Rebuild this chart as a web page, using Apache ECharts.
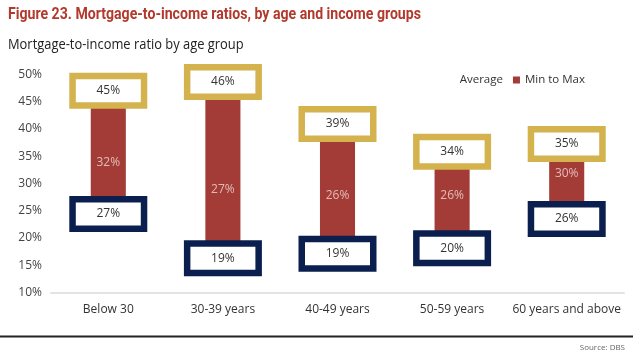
<!DOCTYPE html>
<html><head><meta charset="utf-8">
<script src="https://cdn.jsdelivr.net/npm/echarts@6/dist/echarts.min.js"></script>
<style>html,body{margin:0;padding:0;background:#fff;}#c{width:640px;height:359px;}</style>
</head><body><div id="c"></div>
<script>
var categories = ['Below 30', '30-39 years', '40-49 years', '50-59 years', '60 years and above'];
var maxValues = [44.8, 46.4, 38.7, 33.6, 35.0];
var minValues = [26.7, 18.6, 19.4, 20.4, 25.8];
var avgValues = [32, 27, 26, 26, 30];
var yTicks = [10, 15, 20, 25, 30, 35, 40, 45, 50];

var rangeValues = maxValues.map(function (v, i) { return +(v - minValues[i]).toFixed(2); });
var chart = echarts.init(document.getElementById('c'));

function boxSeries(name, values, color, off) {
  return {
    name: name, type: 'custom', z: 6, silent: true,
    data: values.map(function (v, i) { return [i, v]; }),
    renderItem: function (params, api) {
      var p = api.coord([api.value(0), api.value(1)]);
      var cx = p[0], cy = p[1] + off;
      var w = 71.5, h = 29.5;
      return {
        type: 'group',
        children: [
          { type: 'rect', shape: { x: cx - w / 2, y: cy - h / 2, width: w, height: h },
            style: { fill: '#fff', stroke: color, lineWidth: 6.5 } },
          { type: 'text', x: cx, y: cy,
            style: { text: Math.round(api.value(1)) + '%', align: 'center', verticalAlign: 'middle',
              fill: '#333', font: '12px "Open Sans"' } }
        ]
      };
    }
  };
}

chart.setOption({
  animation: false,
  title: [
    { text: 'Source: DBS', right: 10, top: 339,
      textStyle: { color: '#666', fontSize: 8, fontWeight: 'normal', fontFamily: 'Open Sans' } }
  ],
  graphic: [
    { type: 'text', left: 8, top: 6, scaleX: 0.83, originX: 0,
      style: { text: 'Figure 23. Mortgage-to-income ratios, by age and income groups',
        fill: '#B23A2C', font: 'bold 17px Roboto' } },
    { type: 'text', left: 8, top: 37, scaleX: 0.86,
      style: { text: 'Mortgage-to-income ratio by age group', fill: '#222', font: '15px "Open Sans"' } },
    { type: 'line', shape: { x1: 0, y1: 336.5, x2: 633, y2: 336.5 }, style: { stroke: '#222', lineWidth: 2 } }
  ],
  legend: {
    right: 50, top: 69, itemWidth: 7, itemHeight: 7, itemGap: 10,
    textStyle: { color: '#333', fontSize: 11.5, fontFamily: 'Open Sans' },
    data: [{ name: 'Average', icon: 'none' }, { name: 'Min to Max', icon: 'rect' }]
  },
  grid: { left: 51, right: 16, top: 74.5, bottom: 66.5 },
  xAxis: {
    type: 'category', data: categories,
    axisLine: { lineStyle: { color: '#e3e3e3', width: 2 } }, axisTick: { show: false },
    axisLabel: { color: '#333', fontSize: 12, fontFamily: 'Open Sans', margin: 11, interval: 0 }
  },
  yAxis: {
    type: 'value', min: yTicks[0], max: yTicks[yTicks.length - 1], interval: 5,
    splitLine: { show: false }, axisLine: { show: false }, axisTick: { show: false },
    axisLabel: { color: '#444', fontSize: 12, fontFamily: 'Open Sans', margin: 9, formatter: '{value}%' }
  },
  series: [
    { name: 'base', type: 'bar', stack: 'r', data: minValues, barWidth: '30.6%',
      itemStyle: { color: 'transparent' }, silent: true },
    { name: 'Min to Max', type: 'bar', stack: 'r', data: rangeValues, barWidth: '30.6%',
      itemStyle: { color: '#A33B36' } },
    { name: 'Average', type: 'scatter', data: avgValues, symbolSize: 0, z: 5,
      itemStyle: { color: '#A33B36' },
      label: { show: true, position: 'top', distance: 4, formatter: '{c}%', color: '#F3D9D6', fontSize: 12, fontFamily: 'Open Sans' } },
    boxSeries('maxLbl', maxValues, '#D4B24E', -12.2),
    boxSeries('minLbl', minValues, '#0B1F4F', 12.5)
  ]
});
</script></body></html>
